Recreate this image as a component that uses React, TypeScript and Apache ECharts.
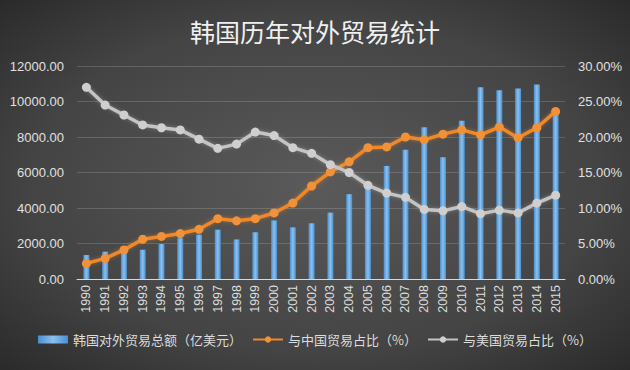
import React, { useEffect, useRef } from "react";
import * as echarts from "echarts";

const years = [
  "1990", "1991", "1992", "1993", "1994", "1995", "1996", "1997", "1998", "1999",
  "2000", "2001", "2002", "2003", "2004", "2005", "2006", "2007", "2008", "2009",
  "2010", "2011", "2012", "2013", "2014", "2015",
];
const tradeTotal = [
  1350, 1540, 1580, 1650, 1970, 2300, 2500, 2780, 2230, 2630,
  3300, 2910, 3140, 3740, 4780, 5460, 6370, 7280, 8550, 6860,
  8910, 10800, 10640, 10730, 10960, 9600,
];
const chinaShare = [
  2.2, 2.9, 4.1, 5.6, 6.0, 6.4, 7.0, 8.5, 8.2, 8.5,
  9.3, 10.7, 13.1, 15.1, 16.5, 18.5, 18.6, 20.0, 19.6, 20.4,
  21.0, 20.3, 21.4, 19.9, 21.3, 23.6,
];
const usShare = [
  27.0, 24.5, 23.1, 21.7, 21.3, 21.0, 19.7, 18.4, 19.0, 20.7,
  20.2, 18.5, 17.7, 16.1, 15.0, 13.2, 12.1, 11.5, 9.8, 9.6,
  10.2, 9.2, 9.7, 9.3, 10.7, 11.8,
];
const seriesNames = ["韩国对外贸易总额（亿美元）", "与中国贸易占比（%）", "与美国贸易占比（%）"];
const titleText = "韩国历年对外贸易统计";

const NUM_FONT = "'Liberation Sans', 'Noto Sans', sans-serif";
const CJK_FONT = "'Noto Sans CJK SC', sans-serif";

export default function App() {
  const ref = useRef<HTMLDivElement>(null);
  useEffect(() => {
    if (!ref.current) return;
    const chart = echarts.init(ref.current, null, { renderer: "svg" });
    chart.setOption({
      animation: false,
      backgroundColor: new echarts.graphic.RadialGradient(0.5, 0.5, 0.75, [
        { offset: 0, color: "#5a5a5a" },
        { offset: 0.6, color: "#444444" },
        { offset: 1, color: "#262626" },
      ]),
      title: {
        text: titleText,
        left: "center",
        top: 13,
        textStyle: {
          color: "#f0f0f0",
          fontSize: 25,
          fontWeight: "normal",
          fontFamily: CJK_FONT,
        },
      },
      legend: {
        bottom: 19,
        left: "center",
        itemGap: 10,
        itemWidth: 30,
        itemHeight: 8,
        textStyle: { color: "#dddddd", fontSize: 13, fontFamily: CJK_FONT },
        data: [
          { name: seriesNames[0], icon: "rect" },
          { name: seriesNames[1] },
          { name: seriesNames[2] },
        ],
      },
      grid: { left: 77, right: 65, top: 66, bottom: 91 },
      xAxis: {
        type: "category",
        data: years,
        axisLine: { lineStyle: { color: "#d8d8d8", width: 1 } },
        axisTick: { show: false },
        axisLabel: {
          interval: 0,
          rotate: 90,
          color: "#dddddd",
          fontSize: 12.5,
          fontFamily: NUM_FONT,
          margin: 6,
        },
      },
      yAxis: [
        {
          type: "value",
          min: 0,
          max: 12000,
          interval: 2000,
          axisLine: { show: false },
          axisTick: { show: false },
          splitLine: { lineStyle: { color: "rgba(255,255,255,0.16)", width: 1 } },
          axisLabel: {
            color: "#e0e0e0",
            fontSize: 13,
            fontFamily: NUM_FONT,
            margin: 13,
            formatter: (v: number) => v.toFixed(2),
          },
        },
        {
          type: "value",
          min: 0,
          max: 30,
          interval: 5,
          axisLine: { show: false },
          axisTick: { show: false },
          splitLine: { show: false },
          axisLabel: {
            color: "#e0e0e0",
            fontSize: 13,
            fontFamily: NUM_FONT,
            margin: 13,
            formatter: (v: number) => v.toFixed(2) + "%",
          },
        },
      ],
      series: [
        {
          name: seriesNames[0],
          type: "bar",
          data: tradeTotal,
          barWidth: 6,
          itemStyle: {
            color: new echarts.graphic.LinearGradient(0, 0, 1, 0, [
              { offset: 0, color: "#4a8fd0" },
              { offset: 0.5, color: "#8cc0ee" },
              { offset: 1, color: "#4a8fd0" },
            ]),
          },
        },
        {
          name: seriesNames[1],
          type: "line",
          yAxisIndex: 1,
          data: chinaShare,
          symbol: "circle",
          symbolSize: 9,
          lineStyle: {
            color: "#f0882a",
            width: 3.5,
            shadowColor: "rgba(240,136,42,0.5)",
            shadowBlur: 4,
          },
          itemStyle: { color: "#f29238" },
          z: 3,
        },
        {
          name: seriesNames[2],
          type: "line",
          yAxisIndex: 1,
          data: usShare,
          symbol: "circle",
          symbolSize: 9,
          lineStyle: {
            color: "#c4c4c4",
            width: 3.5,
            shadowColor: "rgba(200,200,200,0.4)",
            shadowBlur: 4,
          },
          itemStyle: { color: "#cfcfcf" },
          z: 3,
        },
      ],
    });
    return () => chart.dispose();
  }, []);
  return <div ref={ref} style={{ width: 630, height: 370, position: "absolute", left: 0, top: 0 }} />;
}
